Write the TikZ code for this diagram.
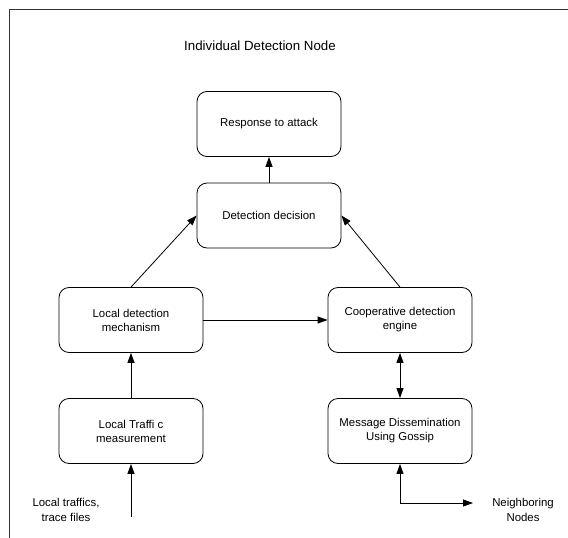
\documentclass[tikz,border=0pt]{standalone}
\usepackage{fontspec}
\setmainfont{Liberation Sans}
\usetikzlibrary{arrows.meta}
\begin{document}
\begin{tikzpicture}[x=1pt,y=-1pt,
  box/.style={draw, line width=0.8pt, rounded corners=10pt, minimum width=144pt, minimum height=65pt, align=center, inner sep=0pt, font=\fontsize{11.4}{14}\selectfont},
  lbl/.style={align=center, inner sep=0pt, font=\fontsize{11.4}{15}\selectfont},
  conn/.style={line width=0.8pt, -{Triangle[length=10pt,width=7pt]}},
  both/.style={line width=0.8pt, {Triangle[length=10pt,width=7pt]}-{Triangle[length=10pt,width=7pt]}}]
\useasboundingbox (0,0) rectangle (568,538);
\draw[line width=0.8pt, black!80] (9,538) -- (9,9) -- (568,9);
\node[font=\fontsize{13.3}{16}\selectfont] (title) at (260,46) {Individual Detection Node};
\node[box] (ra) at (269,124) {Response to attack};
\node[box] (dd) at (269,215.5) {Detection decision};
\node[box] (ld) at (131,320) {Local detection\\mechanism};
\node[box] (cd) at (400,320) {Cooperative detection\\engine};
\node[box] (lt) at (131,431) {Local Traffi c\\measurement};
\node[box] (md) at (400,431) {Message Dissemination\\Using Gossip};
\node[lbl] (lin) at (66,509.5) {Local traffics,\\trace files};
\node[lbl] (nn) at (523,509.5) {Neighboring\\Nodes};
\coordinate (src) at (131,517);
\coordinate (corner) at (400,503);
\coordinate (nbend) at (473,503);
\draw[conn] (dd) -- (ra);
\draw[conn] (ld.north) -- (dd.west);
\draw[conn] (cd.north) -- (dd.east);
\draw[conn] (ld) -- (cd);
\draw[conn] (lt) -- (ld);
\draw[conn] (src) -- (lt);
\draw[both] (cd) -- (md);
\draw[both] (md.south) -- (corner) -- (nbend);
\end{tikzpicture}
\end{document}
